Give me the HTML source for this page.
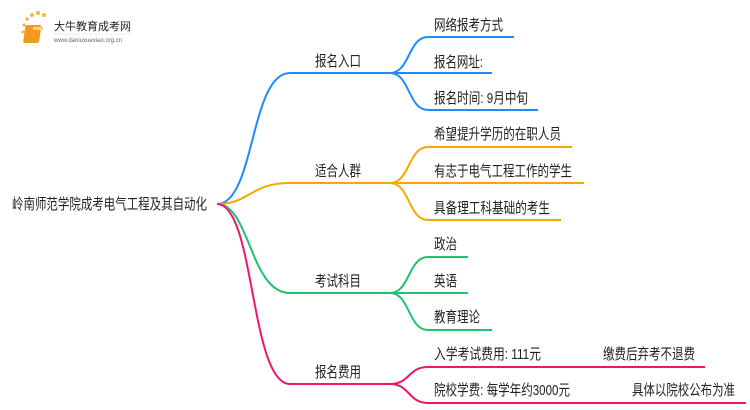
<!DOCTYPE html>
<html><head><meta charset="utf-8"><style>
body{margin:0;background:#fff;}
svg{display:block;font-family:"Liberation Sans","Noto Sans CJK SC",sans-serif;}
text{font-size:15px;fill:#222;}
</style></head><body>
<svg width="750" height="410" viewBox="0 0 750 410">
<g>
<circle cx="24" cy="25" r="1.6" fill="#f7b733"/><circle cx="27" cy="19" r="1.8" fill="#f7b733"/><circle cx="32" cy="15" r="2" fill="#f7b733"/><circle cx="38" cy="13" r="2" fill="#f7b733"/><circle cx="44" cy="15" r="2" fill="#f7b733"/><circle cx="23" cy="32" r="1.5" fill="#f7b733"/><circle cx="25" cy="39" r="1.3" fill="#f7b733"/>
<rect x="29" y="25" width="16" height="18" rx="2" fill="#f29a1e" transform="skewX(-8)"/>
<rect x="33" y="27" width="10" height="3" fill="#fbd089"/>
<text x="54" y="30" style="font-size:11px" fill="#333">大牛教育成考网</text>
<line x1="54" y1="34" x2="132" y2="34" stroke="#ddd" stroke-width="0.6"/>
<text x="54" y="42" style="font-size:6px;fill:#666">www.daniuxuexiao.org.cn</text>
</g>
<g fill="none" stroke-width="2">
<path d="M217 204 C255 204 250 73 290 73 L390 73" stroke="#1a8cff"/>
<path d="M390 73 C410 73 408 37 428 37 L514 37" stroke="#1a8cff"/>
<path d="M390 73 L492 73" stroke="#1a8cff"/>
<path d="M390 73 C410 73 408 110 428 110 L538 110" stroke="#1a8cff"/>
<path d="M217 204 C250 204 250 183 290 183 L390 183" stroke="#f5a800"/>
<path d="M390 183 C410 183 408 147 428 147 L572 147" stroke="#f5a800"/>
<path d="M390 183 L584 183" stroke="#f5a800"/>
<path d="M390 183 C410 183 408 220 428 220 L561 220" stroke="#f5a800"/>
<path d="M217 204 C250 204 250 293 290 293 L390 293" stroke="#1ec26e"/>
<path d="M390 293 C410 293 408 257 428 257 L468 257" stroke="#1ec26e"/>
<path d="M390 293 L468 293" stroke="#1ec26e"/>
<path d="M390 293 C410 293 408 330 428 330 L492 330" stroke="#1ec26e"/>
<path d="M217 204 C255 204 250 384 290 384 L390 384" stroke="#f0166e"/>
<path d="M390 384 C410 384 408 367 428 367 L705 367" stroke="#f0166e"/>
<path d="M390 384 C410 384 408 403 428 403 L746 403" stroke="#f0166e"/>
</g>
<text x="12" y="209" textLength="195" lengthAdjust="spacingAndGlyphs">岭南师范学院成考电气工程及其自动化</text>
<text x="315" y="66" textLength="46" lengthAdjust="spacingAndGlyphs">报名入口</text>
<text x="315" y="176" textLength="46" lengthAdjust="spacingAndGlyphs">适合人群</text>
<text x="315" y="286" textLength="46" lengthAdjust="spacingAndGlyphs">考试科目</text>
<text x="315" y="377" textLength="46" lengthAdjust="spacingAndGlyphs">报名费用</text>
<text x="434" y="30" textLength="69" lengthAdjust="spacingAndGlyphs">网络报考方式</text>
<text x="434" y="67" textLength="49" lengthAdjust="spacingAndGlyphs">报名网址:</text>
<text x="434" y="103" textLength="94" lengthAdjust="spacingAndGlyphs">报名时间: 9月中旬</text>
<text x="434" y="139" textLength="127" lengthAdjust="spacingAndGlyphs">希望提升学历的在职人员</text>
<text x="434" y="176" textLength="138" lengthAdjust="spacingAndGlyphs">有志于电气工程工作的学生</text>
<text x="434" y="213" textLength="116" lengthAdjust="spacingAndGlyphs">具备理工科基础的考生</text>
<text x="434" y="249" textLength="23" lengthAdjust="spacingAndGlyphs">政治</text>
<text x="434" y="286" textLength="23" lengthAdjust="spacingAndGlyphs">英语</text>
<text x="434" y="322" textLength="46" lengthAdjust="spacingAndGlyphs">教育理论</text>
<text x="434" y="359" textLength="107" lengthAdjust="spacingAndGlyphs">入学考试费用: 111元</text>
<text x="603" y="359" textLength="92" lengthAdjust="spacingAndGlyphs">缴费后弃考不退费</text>
<text x="434" y="395" textLength="136" lengthAdjust="spacingAndGlyphs">院校学费: 每学年约3000元</text>
<text x="632" y="395" textLength="103" lengthAdjust="spacingAndGlyphs">具体以院校公布为准</text>
</svg>
</body></html>
